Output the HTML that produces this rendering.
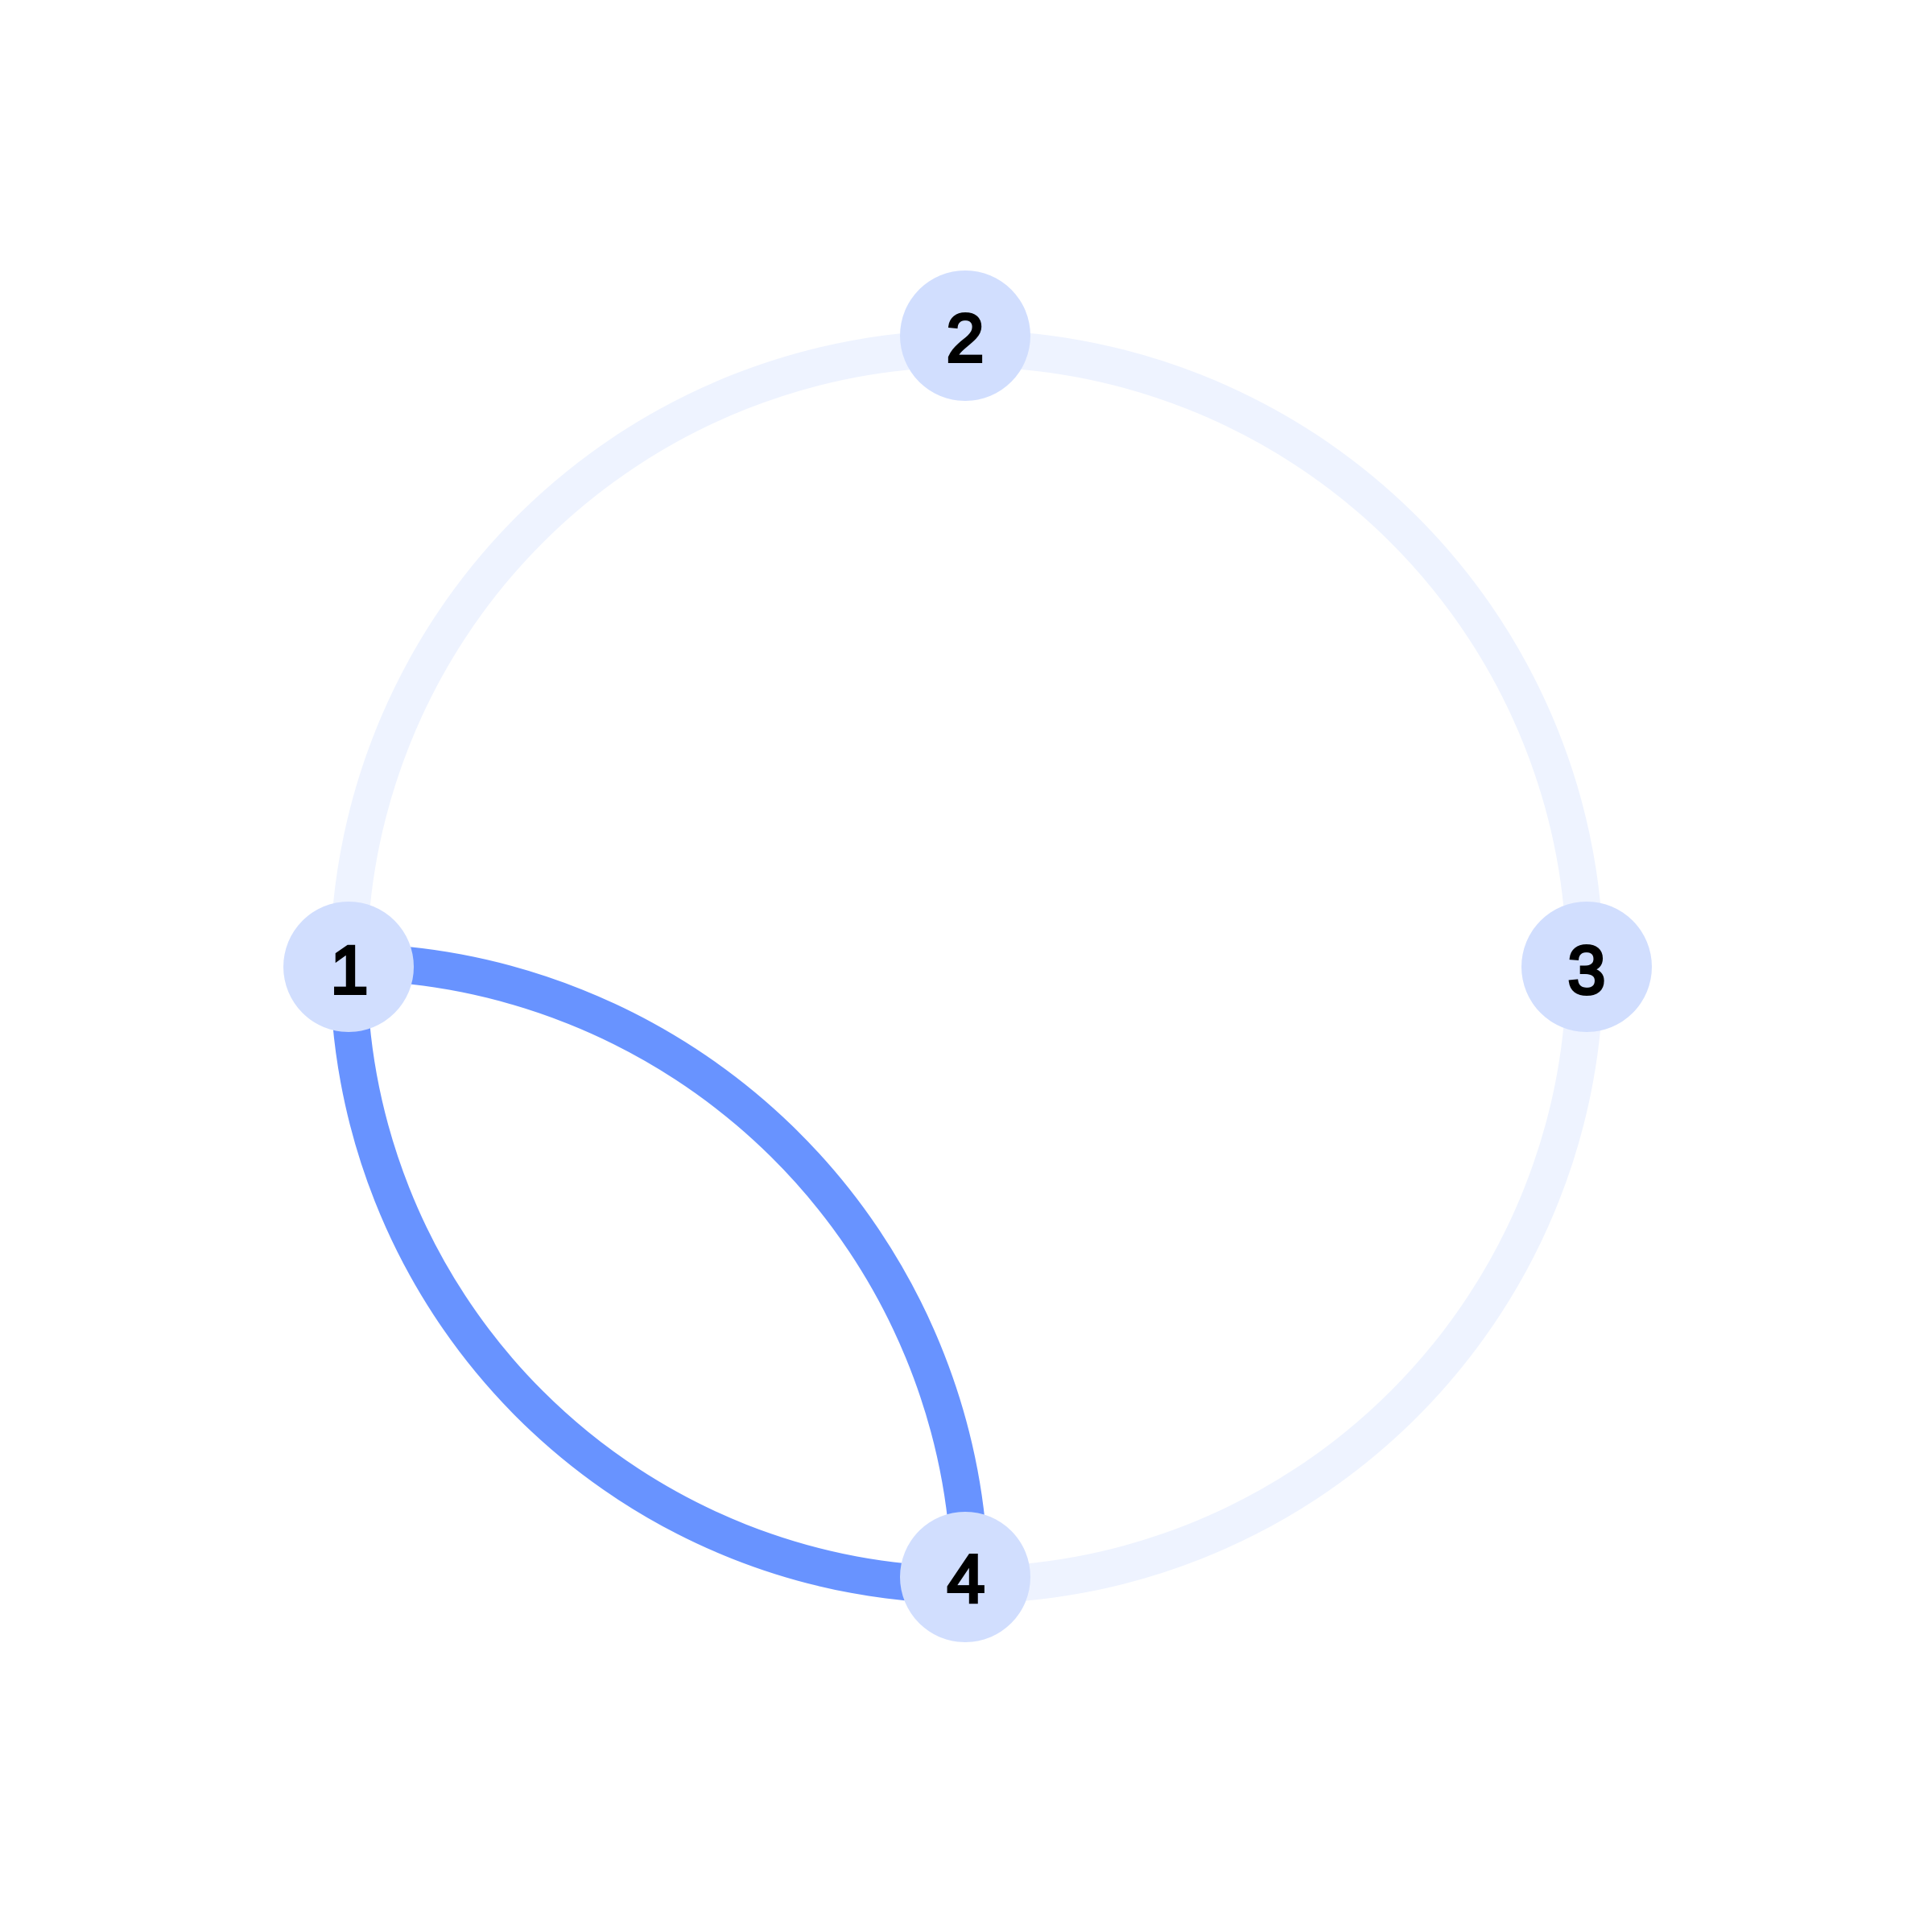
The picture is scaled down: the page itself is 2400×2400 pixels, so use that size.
<!DOCTYPE html>
<html>
<head>
<meta charset="utf-8">
<style>
  html, body { margin: 0; padding: 0; background: #ffffff; }
  svg { display: block; }
  text { font-family: "Liberation Sans", "DejaVu Sans", sans-serif; font-weight: normal; font-size: 84px; fill: #000000; stroke: #000000; stroke-width: 4; }
</style>
</head>
<body>
<svg width="2400" height="2400" viewBox="0 0 2400 2400" xmlns="http://www.w3.org/2000/svg">
  <rect x="0" y="0" width="2400" height="2400" fill="#ffffff"/>
  <!-- light edges along the circle (center 1201,1201 r 768) -->
  <g fill="none" stroke="#eef3ff" stroke-width="46">
    <path d="M 433 1201 A 768 768 0 0 1 1201 433"/>
    <path d="M 1201 433 A 768 768 0 0 1 1969 1201"/>
    <path d="M 1969 1201 A 768 768 0 0 1 1201 1969"/>
  </g>
  <!-- blue edges -->
  <g fill="none" stroke="#6893ff" stroke-width="46">
    <path d="M 1201 1969 A 768 768 0 0 1 433 1201"/>
    <path d="M 433 1195 A 780 780 0 0 1 1205 1959"/>
  </g>
  <!-- nodes -->
  <g fill="#d1defe">
    <circle cx="433" cy="1201" r="81"/>
    <circle cx="1199" cy="417" r="81"/>
    <circle cx="1971" cy="1201" r="81"/>
    <circle cx="1199" cy="1959" r="81"/>
  </g>
  <g text-anchor="middle">
    <text x="434" y="1234">1</text>
    <text x="1199" y="449">2</text>
    <text x="1971" y="1234">3</text>
    <text x="1200" y="1990">4</text>
  </g>
</svg>
</body>
</html>
